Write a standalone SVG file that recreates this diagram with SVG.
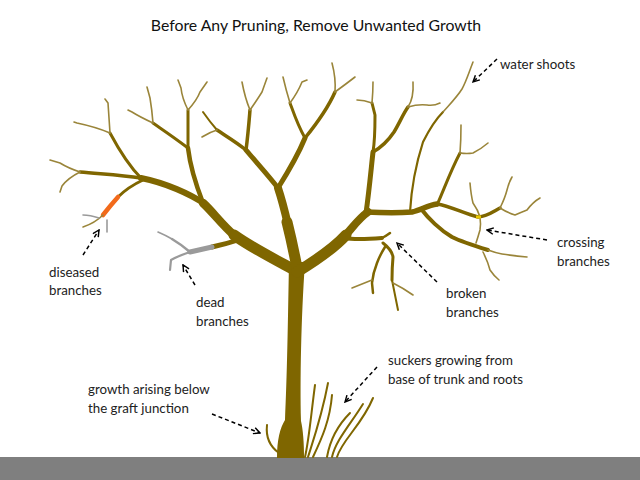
<svg xmlns="http://www.w3.org/2000/svg" width="640" height="480" viewBox="0 0 640 480">
<defs>
<style>
.b{fill:none;stroke:#7f6600;stroke-linecap:round;stroke-linejoin:round}
.tw{fill:none;stroke:#9a853a;stroke-width:1.6;stroke-linecap:round;stroke-linejoin:round}
.sk{fill:none;stroke:#7f6600;stroke-width:2;stroke-linecap:round}
.gr{fill:none;stroke:#9a9a9a;stroke-linecap:round;stroke-linejoin:round}
.lbl{font-family:Lato,"Open Sans","Liberation Sans",sans-serif;font-size:13.3px;fill:#222}
.ar{fill:none;stroke:#000;stroke-width:1.5;stroke-dasharray:4 3;marker-end:url(#ah)}
</style>
<marker id="ah" viewBox="0 0 10 10" refX="9" refY="5" markerWidth="8" markerHeight="8" markerUnits="userSpaceOnUse" orient="auto">
<path d="M1,1 L9,5 L1,9" fill="none" stroke="#000" stroke-width="1.8"/>
</marker>
</defs>
<rect width="640" height="480" fill="#fff"/>
<text x="316" y="31" text-anchor="middle" style="font-family:Lato,'Open Sans','Liberation Sans',sans-serif;font-size:15.8px;fill:#111">Before Any Pruning, Remove Unwanted Growth</text>

<g id="ground"><rect x="0" y="457" width="640" height="23" fill="#7f7f7f"/></g>

<g id="tree">
<path id="trunk" d="M289,262 C288,320 287,380 285,420 C280,428 277,440 277,458 L304,458 C304,442 303,430 301,421 C300,380 301,320 305,262 Z" fill="#7f6600"/>
<!-- left main limb -->
<path class="b" stroke-width="11" d="M298,272 C276,260 252,248 234,235"/>
<path class="b" stroke-width="8.5" d="M236,237 C222,225 212,211 203,203"/>
<path class="b" stroke-width="6" d="M205,204 C190,194 166,183 141,178"/>
<path class="b" stroke-width="3.5" d="M141,178 C120,175 100,174 80,172"/>
<path class="tw" d="M80,172 Q68,168 60,163 L50,160"/>
<path class="tw" d="M80,172 Q68,178 62,186 L60,192"/>
<path class="b" stroke-width="3" d="M141,178 C128,165 118,148 110,133"/>
<path class="tw" d="M110,133 Q109,118 108,103 L105,99"/>
<path class="tw" d="M110,133 Q96,127 77,123 L74,122"/>
<!-- diseased -->
<path class="b" stroke-width="3" d="M143,180 Q128,187 118,197"/>
<path fill="none" stroke="#f26a1b" stroke-width="4.5" stroke-linecap="round" d="M118,197 Q110,206 103,215"/>
<path class="tw" d="M103,215 Q95,223 83,227"/>
<path class="gr" stroke-width="1.6" d="M99,218 Q90,215 83,215"/>
<path class="gr" stroke-width="1.6" d="M107,220 L107,232"/>
<!-- branch from 203,203 -->
<path class="b" stroke-width="4.5" d="M203,203 C196,185 190,165 188,148"/>
<path class="b" stroke-width="3" d="M188,148 C188,135 188,122 188,110"/>
<path class="tw" d="M188,110 Q182,98 181,88 L178,80"/>
<path class="tw" d="M188,110 Q197,100 200,92 L207,82"/>
<path class="b" stroke-width="3" d="M188,148 C175,138 163,130 153,123"/>
<path class="tw" d="M153,123 Q152,110 150,98 L147,87"/>
<path class="tw" d="M153,123 Q140,117 132,112 L128,110"/>
<!-- dead branch -->
<path class="b" stroke-width="5" d="M238,240 Q226,244 212,247"/>
<path class="gr" stroke-width="5" d="M212,247 L190,252"/>
<path class="gr" stroke-width="2.5" d="M190,252 Q182,245 172,239"/>
<path class="gr" stroke-width="1.6" d="M172,239 Q165,235 158,232"/>
<path class="gr" stroke-width="2.2" d="M190,252 Q178,256 171,260 L170,270"/>
<!-- central branch -->
<path class="b" stroke-width="11" d="M297,268 C294,252 291,238 287,222"/>
<path class="b" stroke-width="8" d="M288,225 C285,212 282,200 278,188"/>
<path class="b" stroke-width="5" d="M278,188 C268,175 256,162 246,150"/>
<path class="b" stroke-width="3.5" d="M246,150 C236,142 226,136 217,130"/>
<path class="b" stroke-width="2" d="M217,130 Q210,122 203,112"/>
<path class="tw" d="M217,130 Q210,132 202,137"/>
<path class="b" stroke-width="3.5" d="M246,150 C248,135 249,122 250,110"/>
<path class="tw" d="M250,110 Q245,98 242,82"/>
<path class="tw" d="M250,110 Q257,100 262,92 L267,78"/>
<path class="b" stroke-width="5" d="M278,188 C288,172 298,155 305,138"/>
<path class="b" stroke-width="3" d="M305,138 C298,126 294,114 290,103"/>
<path class="tw" d="M290,103 Q286,90 283,77"/>
<path class="tw" d="M290,103 Q298,92 302,82 L307,80"/>
<path class="b" stroke-width="3.5" d="M305,138 C318,122 328,108 335,92"/>
<path class="tw" d="M335,92 Q336,78 332,63"/>
<path class="tw" d="M335,92 Q346,84 355,77"/>
<!-- right main limb -->
<path class="b" stroke-width="11" d="M297,272 C320,258 336,246 346,235"/>
<path class="b" stroke-width="8" d="M344,237 C353,227 359,218 368,212"/>
<path class="b" stroke-width="5.5" d="M366,212 C385,213 400,213 412,212 C421,210 428,205 437,204"/>
<path class="b" stroke-width="3.5" d="M437,204 C450,206 465,214 478,217 C488,216 494,211 500,208"/>
<path class="tw" d="M500,208 Q505,198 507,190 Q509,182 512,177"/>
<path class="tw" d="M500,208 Q508,213 515,215 Q522,212 527,210 Q533,202 540,198"/>
<!-- vertical from 367,212 -->
<path class="b" stroke-width="5" d="M366,213 C369,192 371,170 373,152"/>
<path class="b" stroke-width="3" d="M373,152 C375,140 375,125 375,115 L372,103"/>
<path class="tw" d="M372,103 Q373,92 373,82"/>
<path class="tw" d="M372,103 Q364,100 357,100"/>
<path class="b" stroke-width="3.5" d="M373,152 C380,148 388,141 394,132 C399,124 403,114 408,107"/>
<path class="tw" d="M408,107 Q414,98 413,82"/>
<path class="tw" d="M408,107 Q418,104 427,105 Q434,106 440,103"/>
<!-- water shoot -->
<path class="b" stroke-width="2.2" d="M410,212 C411,195 414,170 423,142 C430,128 437,118 443,112"/>
<path class="tw" d="M443,112 C450,104 457,97 462,89 C466,82 468,75 473,62"/>
<!-- branch from 437,205 -->
<path class="b" stroke-width="3" d="M437,205 C443,192 450,172 460,153"/>
<path class="tw" d="M460,153 Q461,140 461,125"/>
<path class="tw" d="M460,153 Q467,154 473,153 Q481,149 488,143"/>
<!-- lower right branch -->
<path class="b" stroke-width="4" d="M422,210 C428,218 440,230 452,237 C462,242 475,246 488,250"/>
<path class="tw" d="M488,250 Q496,253 502,254 Q515,256 527,257"/>
<path class="tw" d="M483,252 Q488,262 490,270 Q494,276 499,280"/>
<!-- crossing branch -->
<path class="tw" d="M470,183 Q471,195 473,203 Q478,210 480,217 Q481,224 480,230 Q478,237 476,243"/>
<path fill="none" stroke="#e8c800" stroke-width="3" d="M476,217 L481,217"/>
<!-- broken branch -->
<path class="b" stroke-width="4" d="M344,238 C355,240 370,239 382,238"/>
<path class="b" stroke-width="2.5" d="M382,238 Q386,236 390,233"/>
<path class="b" stroke-width="3" d="M383,243 Q392,250 393,257 Q392,268 392,280"/>
<path class="b" stroke-width="2" d="M392,280 Q395,295 398,310"/>
<path class="tw" d="M393,283 Q403,288 413,295"/>
<path class="b" stroke-width="2.5" d="M385,247 Q380,255 377,263 Q373,273 372,283 L373,293"/>
<path class="tw" d="M372,280 Q362,284 352,288"/>
<!-- suckers -->
<path class="sk" d="M267,425 Q265,443 279,453"/>
<path class="sk" d="M305,457 C309,440 311,415 315,385"/>
<path class="sk" d="M308,457 C315,435 322,415 328,383"/>
<path class="sk" d="M313,457 C322,438 330,420 332,395"/>
<path class="sk" d="M327,457 C330,440 338,425 350,413"/>
<path class="sk" d="M332,457 C336,440 350,425 363,404"/>
<path class="sk" d="M337,457 C342,440 362,425 373,398"/>
</g>

<g id="connectors">
<path class="ar" d="M497,59 L473,82"/>
<path class="ar" d="M547,240 L487,230"/>
<path class="ar" d="M437,282 L397,243"/>
<path class="ar" d="M377,367 L345,402"/>
<path class="ar" d="M212,414 L260,433"/>
<path class="ar" d="M195,285 L183,265"/>
<path class="ar" d="M83,255 L99,230"/>
</g>

<g id="labels">
<g id="lbl-water"><text class="lbl" x="500" y="69">water shoots</text></g>
<g id="lbl-crossing"><text class="lbl" x="557" y="247">crossing</text><text class="lbl" x="557" y="266">branches</text></g>
<g id="lbl-broken"><text class="lbl" x="446" y="298">broken</text><text class="lbl" x="446" y="317">branches</text></g>
<g id="lbl-suckers"><text class="lbl" x="388" y="365">suckers growing from</text><text class="lbl" x="388" y="384">base of trunk and roots</text></g>
<g id="lbl-graft"><text class="lbl" x="88" y="394">growth arising below</text><text class="lbl" x="88" y="413">the graft junction</text></g>
<g id="lbl-dead"><text class="lbl" x="196" y="307">dead</text><text class="lbl" x="196" y="326">branches</text></g>
<g id="lbl-diseased"><text class="lbl" x="49" y="277">diseased</text><text class="lbl" x="49" y="295">branches</text></g>
</g>
</svg>
